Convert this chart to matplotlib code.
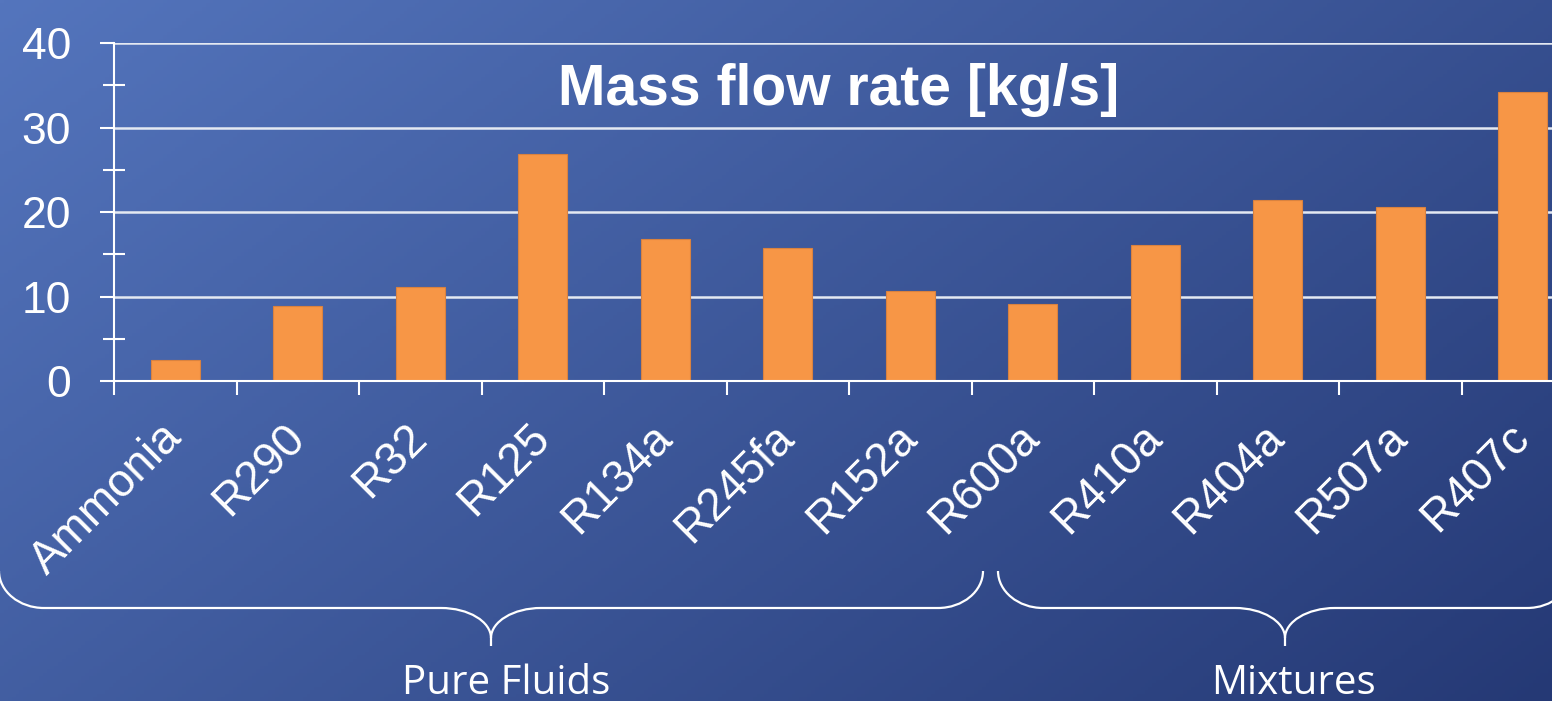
import numpy as np
import matplotlib
matplotlib.use("Agg")
import matplotlib.pyplot as plt
from matplotlib.path import Path
from matplotlib.patches import PathPatch
from matplotlib.transforms import Affine2D

# ---------------- data ----------------
categories = ["Ammonia", "R290", "R32", "R125", "R134a", "R245fa", "R152a",
              "R600a", "R410a", "R404a", "R507a", "R407c"]
mass_flow = [2.5, 8.9, 11.1, 26.9, 16.8, 15.7, 10.7, 9.1, 16.1, 21.4, 20.6, 34.2]
y_major = [0, 10, 20, 30, 40]
y_minor = [5, 15, 25, 35]
title = "Mass flow rate [kg/s]"
group_names = ["Pure Fluids", "Mixtures"]

# ---------------- layout ----------------
W, H = 1552, 701
fig = plt.figure(figsize=(W / 100, H / 100), dpi=100)

# gradient background
bg = fig.add_axes([0, 0, 1, 1], zorder=-10)
gx, gy = np.meshgrid(np.linspace(0, 1, 400), np.linspace(0, 1, 200))
t = np.clip(0.62 * gx + 0.38 * gy, 0, 1)
c0 = np.array([84, 117, 189]) / 255.0
c1 = np.array([37, 57, 117]) / 255.0
img = c0[None, None, :] * (1 - t[..., None]) + c1[None, None, :] * t[..., None]
bg.imshow(img, aspect="auto", extent=[0, 1, 0, 1], origin="upper")
bg.axis("off")

px_left, px_right, px_top, px_bottom = 114, 1584, 43, 381
ax = fig.add_axes([px_left / W, 1 - px_bottom / H,
                   (px_right - px_left) / W, (px_bottom - px_top) / H])
ax.patch.set_visible(False)

x = np.arange(len(categories))
ax.bar(x, mass_flow, width=0.4, color="#F79646", edgecolor="#D9823F",
       linewidth=0.8, zorder=3)

ax.set_xlim(-0.5, len(categories) - 0.5)
ax.set_ylim(0, 40)

# y axis
ax.set_yticks(y_major)
ax.set_yticks(y_minor, minor=True)
ax.set_yticklabels([str(v) for v in y_major], fontsize=32,
                   family="Liberation Sans", color="white")
ax.tick_params(axis="y", which="major", direction="out", length=10,
               width=1.5, color="white", pad=21)
ax.tick_params(axis="y", which="minor", direction="inout", length=16,
               width=1.5, color="white")
ax.yaxis.grid(True, which="major", color="#E4E9F2", linewidth=1.8, zorder=0)
ax.set_axisbelow(True)

# x axis: labels at centres, tick marks at boundaries
ax.set_xticks(x)
ax.set_xticks(np.arange(len(categories) + 1) - 0.5, minor=True)
ax.set_xticklabels(categories, fontsize=33, family="Liberation Sans",
                   color="white", rotation=45, ha="right", va="center",
                   rotation_mode="anchor")
ax.tick_params(axis="x", which="major", length=0, pad=36)
ax.tick_params(axis="x", which="minor", direction="out", length=10,
               width=1.5, color="white")

for s in ["top", "right"]:
    ax.spines[s].set_visible(False)
for s in ["left", "bottom"]:
    ax.spines[s].set_color("white")
    ax.spines[s].set_linewidth(1.5)
    ax.spines[s].set_zorder(4)

# title inside the plot
fig.text(839 / W, 1 - 105 / H, title, ha="center", va="baseline",
         fontsize=41, fontweight="bold", family="Liberation Sans",
         color="white")

# ---------------- braces ----------------
px2fig = Affine2D().scale(1 / W, -1 / H).translate(0, 1) + fig.transFigure


def brace(x0, x1, y_end=571, y_bar=608, y_tip=646, end_w=45, mid_w=50):
    xc = (x0 + x1) / 2
    k = 0.55
    dy_e = y_bar - y_end
    y_join = y_tip - 8
    dy_m = y_join - y_bar
    verts = [
        (x0, y_end),
        (x0, y_end + k * dy_e), (x0 + end_w - k * end_w, y_bar), (x0 + end_w, y_bar),
        (xc - mid_w, y_bar),
        (xc - mid_w + k * mid_w, y_bar), (xc, y_join - k * dy_m), (xc, y_join),
        (xc, y_tip),
        (xc, y_join),
        (xc, y_join - k * dy_m), (xc + mid_w - k * mid_w, y_bar), (xc + mid_w, y_bar),
        (x1 - end_w, y_bar),
        (x1 - end_w + k * end_w, y_bar), (x1, y_end + k * dy_e), (x1, y_end),
    ]
    codes = [Path.MOVETO,
             Path.CURVE4, Path.CURVE4, Path.CURVE4,
             Path.LINETO,
             Path.CURVE4, Path.CURVE4, Path.CURVE4,
             Path.LINETO,
             Path.MOVETO,
             Path.CURVE4, Path.CURVE4, Path.CURVE4,
             Path.LINETO,
             Path.CURVE4, Path.CURVE4, Path.CURVE4]
    patch = PathPatch(Path(verts, codes), facecolor="none", edgecolor="white",
                      linewidth=1.6, transform=px2fig, clip_on=False)
    fig.add_artist(patch)
    return xc


brace_spans = [(-1, 983), (998, 1572)]
label_x = [506, 1293]
for (b0, b1), name, lx in zip(brace_spans, group_names, label_x):
    brace(b0, b1)
    fig.text(lx / W, 1 - 694 / H, name, ha="center", va="baseline",
             fontsize=29, family="Open Sans", color="white")

fig.savefig("out.png", dpi=100)
